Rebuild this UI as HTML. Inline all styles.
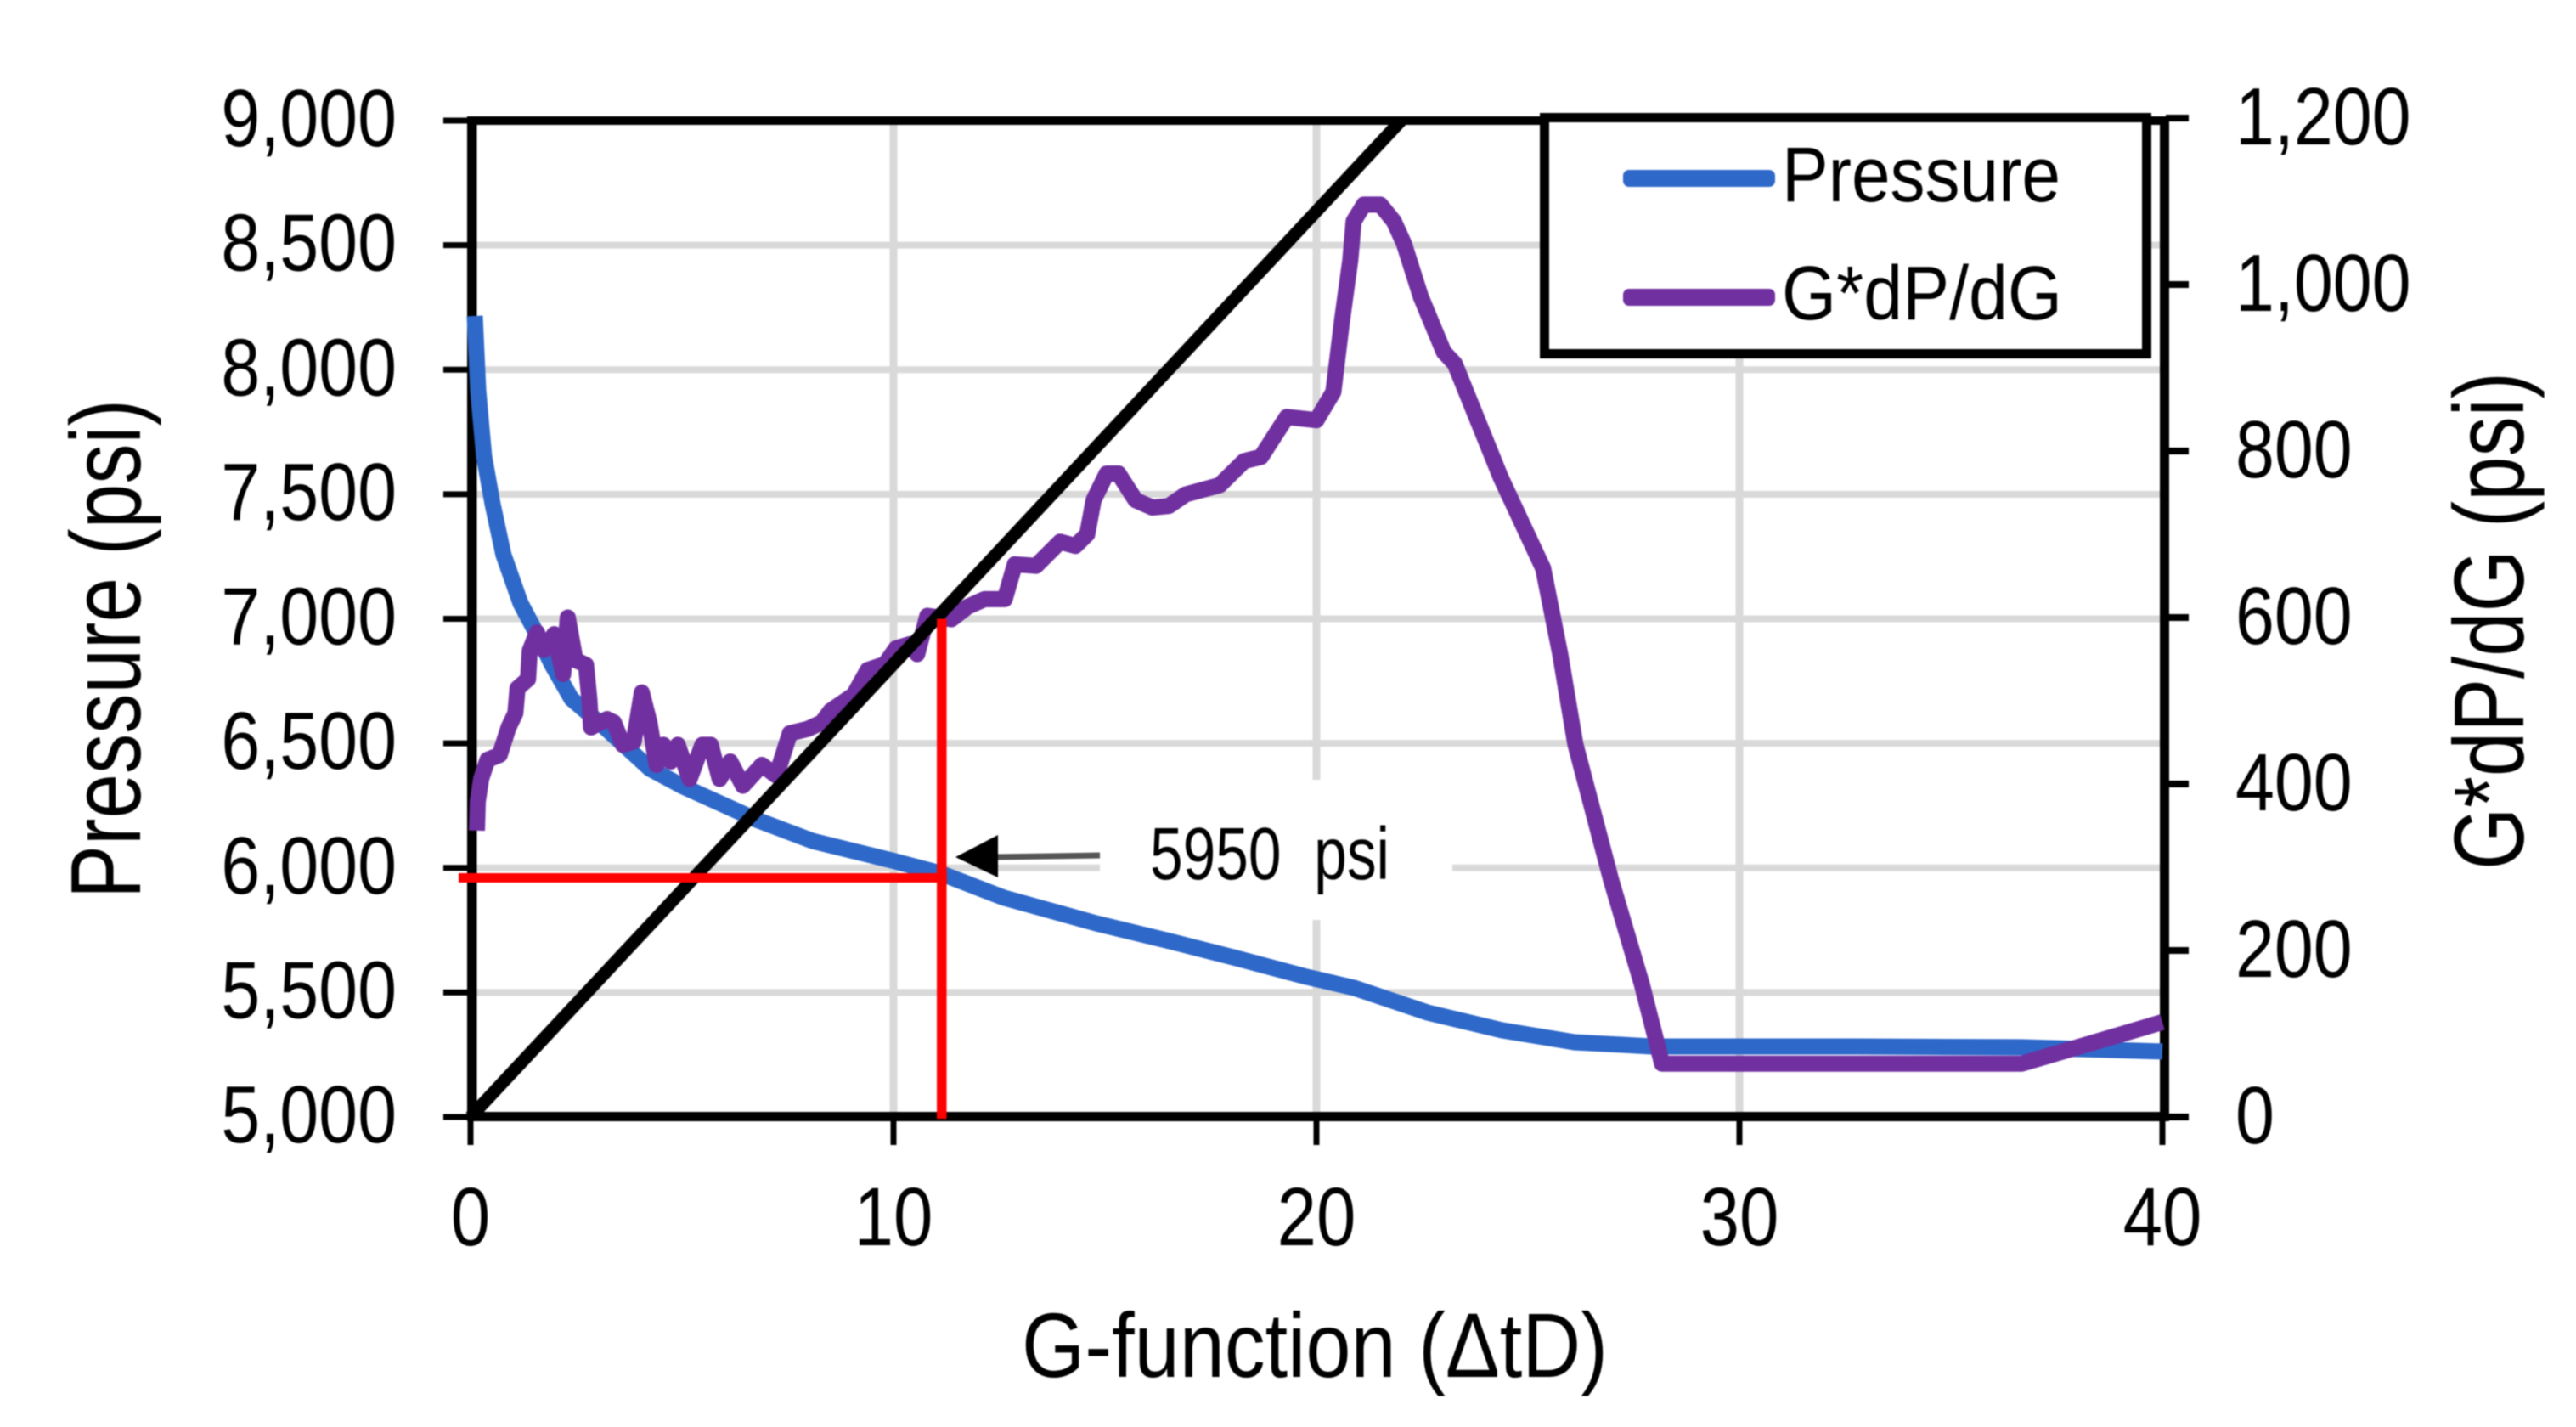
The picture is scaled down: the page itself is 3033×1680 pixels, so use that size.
<!DOCTYPE html>
<html lang="en">
<head>
<meta charset="utf-8">
<title>G-function chart</title>
<style>
html,body{margin:0;padding:0;background:#fff;width:3033px;height:1680px;overflow:hidden}
svg{display:block;filter:blur(0.8px)}
text{font-family:"Liberation Sans",Arial,sans-serif;fill:#000;white-space:pre}
</style>
</head>
<body>
<svg id="chart" xmlns="http://www.w3.org/2000/svg" width="3033" height="1680" viewBox="0 0 3033 1680"></svg>
<script>
const pressureTicks = [5000, 5500, 6000, 6500, 7000, 7500, 8000, 8500, 9000];
const pressureTickLabels = ['5,000', '5,500', '6,000', '6,500', '7,000', '7,500', '8,000', '8,500', '9,000'];
const derivTicks = [0, 200, 400, 600, 800, 1000, 1200];
const derivTickLabels = ['0', '200', '400', '600', '800', '1,000', '1,200'];
const gTicks = [0, 10, 20, 30, 40];
const gTickLabels = ['0', '10', '20', '30', '40'];

const pressureG = [0.1, 0.18, 0.32, 0.52, 0.78, 1.18, 1.53, 1.93, 2.39, 3.17, 4.24, 5.02, 6.75, 8.09, 9.96, 11.10, 12.61, 14.80, 16.53, 18.03, 19.76, 20.90, 22.63, 24.38, 26.10, 27.93, 32.73, 36.67, 40];
const pressureValues = [8216, 7916, 7653, 7462, 7257, 7063, 6951, 6814, 6678, 6565, 6398, 6327, 6194, 6108, 6030, 5979, 5880, 5777, 5706, 5641, 5563, 5518, 5419, 5348, 5300, 5283, 5283, 5280, 5263];

const derivG = [0.15, 0.17, 0.25, 0.40, 0.69, 0.90, 1.06, 1.11, 1.36, 1.40, 1.57, 1.73, 1.98, 2.19, 2.30, 2.48, 2.73, 2.81, 2.85, 3.23, 3.39, 3.60, 3.86, 4.05, 4.23, 4.40, 4.56, 4.73, 4.90, 5.18, 5.48, 5.68, 5.89, 6.14, 6.44, 6.89, 7.23, 7.55, 7.97, 8.31, 8.51, 9.06, 9.39, 9.80, 10.06, 10.38, 10.56, 10.80, 11.37, 11.75, 12.15, 12.63, 12.87, 13.37, 13.94, 14.30, 14.58, 14.73, 15.04, 15.32, 15.72, 16.12, 16.51, 16.91, 17.71, 18.29, 18.69, 19.30, 20, 20.40, 20.60, 20.80, 20.88, 21.12, 21.51, 21.83, 22.07, 22.47, 23.01, 23.27, 24.36, 25.36, 25.76, 26.12, 26.97, 27.69, 28.17, 36.67, 40];
const derivValues = [344, 379, 406, 429, 435, 468, 485, 515, 526, 560, 582, 561, 580, 532, 600, 549, 543, 502, 468, 478, 474, 447, 451, 510, 474, 423, 447, 427, 447, 406, 447, 447, 406, 427, 398, 423, 410, 461, 466, 474, 488, 507, 537, 544, 563, 568, 556, 602, 598, 613, 622, 622, 664, 662, 691, 686, 700, 741, 773, 773, 741, 732, 734, 748, 759, 788, 793, 841, 837, 871, 955, 1029, 1076, 1096, 1096, 1076, 1049, 985, 919, 905, 768, 659, 557, 448, 284, 160, 64, 64, 114];

const tangentG = [0, 22];
const tangentPressure = [5000, 9000];
const closureG = 11.14;
const closurePressure = 5960;
const closureTopPressure = 7000;
const closureLeftG = -0.28;

function xOf(g) { return 554 + g * 49.8; }
function yPressure(p) { return 1315 - (p - 5000) * 0.29325; }
function yDeriv(v) { return 1315 - v * 0.98; }

const svg = document.getElementById('chart');
const NS = 'http://www.w3.org/2000/svg';

function shape(tag, attrs, text) {
  const el = document.createElementNS(NS, tag);
  for (const k in attrs) el.setAttribute(k, attrs[k]);
  if (text !== undefined) el.textContent = text;
  svg.appendChild(el);
  return el;
}
function labelWidth(s, size, squeeze) {
  let em = 0;
  for (const c of s) em += (c === ',' ? 0.278 : 0.556);
  return em * size * squeeze;
}
let el;

// plot background gridlines
for (let i = 1; i < pressureTicks.length - 1; i++) {
  el = shape('line', {x1: 561, x2: 2545, y1: yPressure(pressureTicks[i]), y2: yPressure(pressureTicks[i]), stroke: '#d9d9d9', 'stroke-width': 8});
  
  
}
for (let i = 1; i < gTicks.length - 1; i++) {
  el = shape('line', {x1: xOf(gTicks[i]), x2: xOf(gTicks[i]), y1: 142, y2: 1310, stroke: '#d9d9d9', 'stroke-width': 9});
  
  
}
// white backing of the annotation
el = shape('rect', {x: 1295, y: 918, width: 415, height: 165, fill: '#fff'});



// axes
el = shape('rect', {x: 550, y: 137, width: 11.5, height: 1182, fill: '#000'});


el = shape('rect', {x: 2543, y: 137, width: 11, height: 1182, fill: '#000'});


el = shape('rect', {x: 550, y: 137, width: 2004, height: 10, fill: '#000'});


el = shape('rect', {x: 550, y: 1309, width: 2004, height: 11, fill: '#000'});



// left ticks and labels
pressureTicks.forEach(function (t, i) {
  const y = yPressure(t);
  let m = shape('rect', {x: 522, y: y - 3.5, width: 30, height: 7, fill: '#000'});
  
  
  const w = labelWidth(pressureTickLabels[i], 96, 0.86);
  m = shape('text', {x: 467 - w, y: y + 30, 'font-size': 96, textLength: w, lengthAdjust: 'spacingAndGlyphs'}, pressureTickLabels[i]);
  
  
});
// right ticks and labels
derivTicks.forEach(function (t, i) {
  const y = yDeriv(t);
  let m = shape('rect', {x: 2550, y: y - 4, width: 27, height: 8, fill: '#000'});
  
  
  const w = labelWidth(derivTickLabels[i], 96, 0.86);
  m = shape('text', {x: 2632, y: y + 31, 'font-size': 96, textLength: w, lengthAdjust: 'spacingAndGlyphs'}, derivTickLabels[i]);
  
  
});
// bottom ticks and labels
gTicks.forEach(function (t, i) {
  const x = xOf(t);
  let m = shape('rect', {x: x - 3.5, y: 1315, width: 7, height: 33, fill: '#000'});
  
  
  const w = labelWidth(gTickLabels[i], 97, 0.86);
  m = shape('text', {x: x - w / 2, y: 1466, 'font-size': 97, textLength: w, lengthAdjust: 'spacingAndGlyphs'}, gTickLabels[i]);
  
  
});

// series
function pathFrom(xs, ys, yFn) {
  return xs.map(function (g, i) { return (i ? 'L' : 'M') + xOf(g).toFixed(1) + ' ' + yFn(ys[i]).toFixed(1); }).join(' ');
}
el = shape('path', {d: pathFrom(pressureG, pressureValues, yPressure), fill: 'none', stroke: '#2e68c9', 'stroke-width': 19, 'stroke-linejoin': 'round'});


el = shape('path', {d: pathFrom(derivG, derivValues, yDeriv), fill: 'none', stroke: '#7030a0', 'stroke-width': 19, 'stroke-linejoin': 'round'});



// tangent line
el = shape('path', {d: pathFrom(tangentG, tangentPressure, yPressure), fill: 'none', stroke: '#000', 'stroke-width': 15});



// closure markers
el = shape('line', {x1: xOf(closureLeftG), x2: xOf(closureG) + 6, y1: yPressure(closurePressure), y2: yPressure(closurePressure), stroke: '#ff0000', 'stroke-width': 11});


el = shape('line', {x1: xOf(closureG), x2: xOf(closureG), y1: yPressure(closureTopPressure), y2: 1317, stroke: '#ff0000', 'stroke-width': 11.5});



// annotation
el = shape('line', {x1: 1172, y1: 1009, x2: 1295, y2: 1007, stroke: '#555', 'stroke-width': 7});


el = shape('polygon', {points: '1125,1009 1175,983 1175,1033', fill: '#000'});


el = shape('text', {x: 1354, y: 1035, 'font-size': 87, textLength: 282, lengthAdjust: 'spacingAndGlyphs'}, '5950  psi');



// legend
el = shape('rect', {x: 1818.5, y: 138.5, width: 709, height: 278, fill: '#fff', stroke: '#000', 'stroke-width': 11});


el = shape('rect', {x: 1911, y: 200, width: 179, height: 20, rx: 7, fill: '#2e68c9'});


el = shape('text', {x: 2098, y: 237, 'font-size': 92, textLength: 328, lengthAdjust: 'spacingAndGlyphs'}, 'Pressure');


el = shape('rect', {x: 1911, y: 340, width: 179, height: 20, rx: 7, fill: '#7030a0'});


el = shape('text', {x: 2098, y: 376, 'font-size': 90, textLength: 330, lengthAdjust: 'spacingAndGlyphs'}, 'G*dP/dG');



// axis titles
el = shape('text', {x: 1203, y: 1621, 'font-size': 108, textLength: 690, lengthAdjust: 'spacingAndGlyphs'}, 'G-function (ΔtD)');


el = shape('text', {x: 0, y: 0, 'font-size': 117, textLength: 588, lengthAdjust: 'spacingAndGlyphs', transform: 'translate(165 1058) rotate(-90)'}, 'Pressure (psi)');


el = shape('text', {x: 0, y: 0, 'font-size': 117, textLength: 586, lengthAdjust: 'spacingAndGlyphs', transform: 'translate(2971 1024) rotate(-90)'}, 'G*dP/dG (psi)');


</script>
</body>
</html>
